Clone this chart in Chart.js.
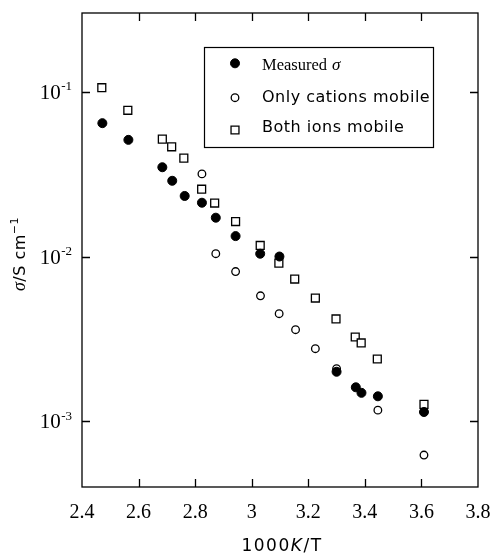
<!DOCTYPE html>
<html>
<head>
<meta charset="utf-8">
<script src="https://cdn.jsdelivr.net/npm/chart.js@4"></script>
<style>
  html,body{margin:0;padding:0;background:#fff}
  #chart{display:block}
</style>
</head>
<body>
<canvas id="chart" width="495" height="555"></canvas>
<script>
// data (x = 1000K/T, y = conductivity in S/cm)
const measuredX=[2.472,2.564,2.684,2.719,2.763,2.824,2.873,2.943,3.030,3.098,3.300,3.368,3.388,3.446,3.609];
const measuredY=[0.0644,0.0510,0.0348,0.0288,0.0233,0.0212,0.0172,0.0133,0.0104,0.0100,0.00200,0.00161,0.00149,0.00142,0.00114];

const cationX=[2.824,2.873,2.943,3.031,3.097,3.155,3.225,3.300,3.446,3.609];
const cationY=[0.0317,0.0104,0.00811,0.00578,0.00450,0.00360,0.00276,0.00209,0.00117,0.000625];

const bothX=[2.470,2.562,2.684,2.717,2.760,2.823,2.869,2.943,3.030,3.096,3.152,3.225,3.298,3.366,3.387,3.444,3.609];
const bothY=[0.1057,0.0771,0.0515,0.0463,0.0395,0.0256,0.0211,0.0163,0.01167,0.00912,0.00730,0.00560,0.00418,0.00325,0.00299,0.00239,0.001268];

const xTicks=[2.4,2.6,2.8,3.0,3.2,3.4,3.6,3.8];
const yTicks=[0.001,0.01,0.1];
const yTickExp=["-3","-2","-1"];
const legendLabels=["Measured","Only cations mobile","Both ions mobile"];

const SERIF="'Liberation Serif', 'Times New Roman', serif";
const SANS="'DejaVu Sans', sans-serif";

function pts(xs,ys){return xs.map((x,i)=>({x,y:ys[i]}))}

/* frame, inward ticks, y labels, titles, legend */
const decor={
  id:"decor",
  beforeDatasetsDraw(c){
    const {ctx,chartArea:a,scales:{x,y}}=c;
    ctx.save();
    ctx.strokeStyle="#000";
    ctx.lineWidth=1.3;
    ctx.strokeRect(a.left,a.top,a.right-a.left,a.bottom-a.top);
    ctx.beginPath();
    xTicks.forEach(v=>{
      const px=Math.round(x.getPixelForValue(v))+0.5;
      if(px<=a.left+1||px>=a.right-1) return;
      ctx.moveTo(px,a.bottom);ctx.lineTo(px,a.bottom-8);
      ctx.moveTo(px,a.top);ctx.lineTo(px,a.top+8);
    });
    yTicks.forEach(v=>{
      const py=Math.round(y.getPixelForValue(v))+0.5;
      ctx.moveTo(a.left,py);ctx.lineTo(a.left+8,py);
      ctx.moveTo(a.right,py);ctx.lineTo(a.right-8,py);
    });
    ctx.stroke();
    ctx.restore();
  },
  afterDraw(c){
    const {ctx,chartArea:a,scales:{x,y}}=c;
    ctx.save();
    ctx.fillStyle="#000";
    ctx.textBaseline="alphabetic";

    // y tick labels 10^n
    yTicks.forEach((v,i)=>{
      const py=y.getPixelForValue(v);
      ctx.font="13px "+SERIF;
      const ew=ctx.measureText(yTickExp[i]).width;
      ctx.textAlign="left";
      ctx.fillText(yTickExp[i],72-ew,py-1.5);
      ctx.font="21px "+SERIF;
      ctx.textAlign="right";
      ctx.fillText("10",72-ew-0.5,py+7);
    });

    // x title: 1000K/T
    ctx.letterSpacing="1.5px";
    const parts=[["1000","17px "+SANS],["K","oblique 17px "+SANS],["/T","17px "+SANS]];
    let w=0;
    parts.forEach(p=>{ctx.font=p[1];w+=ctx.measureText(p[0]).width});
    let cx=(a.left+a.right)/2+2-w/2;
    ctx.textAlign="left";
    parts.forEach(p=>{ctx.font=p[1];ctx.fillText(p[0],cx,551);cx+=ctx.measureText(p[0]).width});

    // y title: σ/S cm−1 (rotated)
    ctx.save();
    ctx.translate(25,254);
    ctx.rotate(-Math.PI/2);
    ctx.letterSpacing="0.5px";
    const yp=[["σ","italic 18px "+SERIF,0],["/S cm","16px "+SANS,0],["−1","11px "+SANS,-7]];
    w=0;
    yp.forEach(p=>{ctx.font=p[1];w+=ctx.measureText(p[0]).width});
    cx=-w/2;
    yp.forEach(p=>{ctx.font=p[1];ctx.fillText(p[0],cx,p[2]);cx+=ctx.measureText(p[0]).width});
    ctx.restore();

    // legend box
    ctx.letterSpacing="0px";
    ctx.strokeStyle="#000";
    ctx.lineWidth=1.2;
    ctx.strokeRect(204.5,47.5,229,100);
    const rows=[63.3,97.7,130];
    const base=[70,101.7,131.7];
    legendLabels.forEach((lab,i)=>{
      const ds=c.data.datasets.find(d=>d.label.startsWith(lab));
      const my=rows[i],mx=235;
      ctx.beginPath();
      ctx.lineWidth=ds.borderWidth;
      ctx.fillStyle=ds.backgroundColor;
      if(ds.pointStyle==="rect"){
        const s=ds.pointRadius*Math.SQRT1_2;
        ctx.rect(mx-s,my-s,2*s,2*s);
      }else{
        ctx.arc(mx,my,ds.pointRadius,0,Math.PI*2);
      }
      ctx.fill();ctx.stroke();
      ctx.fillStyle="#000";
      ctx.textAlign="left";
      if(i===0){
        ctx.font="16.5px "+SERIF;
        ctx.fillText(lab,262,base[0]);
        const mw=ctx.measureText(lab).width;
        ctx.font="italic 17px "+SERIF;
        ctx.fillText("σ",262+mw+5,base[0]);
      }else{
        ctx.letterSpacing="0.5px";
        ctx.font="16px "+SANS;
        ctx.fillText(lab,262,base[i]);
        ctx.letterSpacing="0px";
      }
    });
    ctx.restore();
  }
};

new Chart(document.getElementById("chart"),{
  type:"scatter",
  data:{
    datasets:[
      {label:"Measured σ",data:pts(measuredX,measuredY),pointStyle:"circle",pointRadius:4.5,
       backgroundColor:"#000",borderColor:"#000",borderWidth:1},
      {label:"Both ions mobile",data:pts(bothX,bothY),pointStyle:"rect",pointRadius:5.6,
       backgroundColor:"#fff",borderColor:"#000",borderWidth:1.3},
      {label:"Only cations mobile",data:pts(cationX,cationY),pointStyle:"circle",pointRadius:3.8,
       backgroundColor:"#fff",borderColor:"#000",borderWidth:1.3}
    ]
  },
  options:{
    responsive:false,
    animation:false,
    devicePixelRatio:1,
    layout:{padding:{left:82,right:17,top:13,bottom:0}},
    plugins:{legend:{display:false},tooltip:{enabled:false}},
    elements:{point:{hoverRadius:0}},
    scales:{
      x:{
        type:"linear",min:2.4,max:3.8,
        afterBuildTicks:s=>{s.ticks=xTicks.map(v=>({value:v}))},
        afterFit:s=>{s.height=68;s.paddingLeft=0;s.paddingRight=0},
        grid:{display:false,drawTicks:false},
        border:{display:false},
        ticks:{
          color:"#000",padding:14,
          font:{family:SERIF,size:20},
          callback:v=>String(Math.round(v*10)/10)
        }
      },
      y:{
        type:"logarithmic",min:0.0004,max:0.3,
        afterFit:s=>{s.width=0;s.paddingTop=0;s.paddingBottom=0},
        grid:{display:false,drawTicks:false},
        border:{display:false},
        ticks:{display:false}
      }
    }
  },
  plugins:[decor]
});
</script>
</body>
</html>
